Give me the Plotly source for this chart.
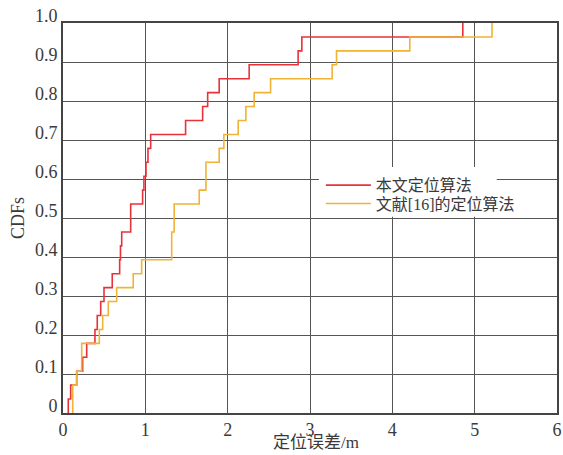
import numpy as np
import plotly.graph_objects as go

# Positioning error samples (m) for the two algorithms, 28 test points each
series_names = ["本文定位算法", "文献[16]的定位算法"]
errors_proposed = [0.064, 0.093, 0.166, 0.239, 0.288, 0.388, 0.416, 0.458, 0.498, 0.598,
                   0.688, 0.698, 0.713, 0.822, 0.822, 0.967, 0.983, 1.008, 1.032, 1.065,
                   1.489, 1.696, 1.757, 1.897, 2.261, 2.856, 2.901, 4.856]
errors_ref16 = [0.118, 0.118, 0.166, 0.227, 0.227, 0.441, 0.482, 0.550, 0.652, 0.853,
                0.955, 1.320, 1.320, 1.350, 1.350, 1.655, 1.736, 1.736, 1.897, 1.954,
                2.128, 2.221, 2.322, 2.521, 3.269, 3.322, 4.212, 5.211]
series_colors = ["#e8323a", "#f0b336"]

x_ticks = [0, 1, 2, 3, 4, 5, 6]
y_ticks = [0, 0.1, 0.2, 0.3, 0.4, 0.5, 0.6, 0.7, 0.8, 0.9, 1.0]
y_tick_labels = ["0", "0.1", "0.2", "0.3", "0.4", "0.5", "0.6", "0.7", "0.8", "0.9", "1.0"]
x_title = "定位误差/m"
y_title = "CDFs"


def ecdf_steps(samples):
    """Empirical CDF as step vertices, starting from zero at the first sample."""
    s = np.sort(np.asarray(samples, dtype=float))
    xs, counts = np.unique(s, return_counts=True)
    ys = np.cumsum(counts) / len(s)
    return np.r_[xs[0], xs], np.r_[0.0, ys]


SERIF = "Liberation Serif, Times New Roman, Noto Sans CJK SC, serif"
TEXT = "#3a3a3a"
GRID = "#555555"

fig = go.Figure()
legend_ids = ["legend", "legend2"]
for name, samples, color, lg in zip(series_names, [errors_proposed, errors_ref16],
                                    series_colors, legend_ids):
    x, y = ecdf_steps(samples)
    fig.add_trace(go.Scatter(
        x=x, y=y, mode="lines", name=name, legend=lg, showlegend=True,
        line=dict(color=color, width=1.6, shape="hv"),
    ))

axis_common = dict(
    showgrid=True, gridcolor=GRID, gridwidth=1.3,
    showline=True, linecolor="#444444", linewidth=1.6, mirror=True,
    zeroline=False, ticks="", ticklen=0, automargin=False, ticklabeloverflow="allow",
    tickfont=dict(family=SERIF, size=18, color=TEXT),
)

legend_common = dict(
    xanchor="left", yanchor="middle",
    bgcolor="rgba(0,0,0,0)", borderwidth=0,
    font=dict(family=SERIF, size=16, color=TEXT),
    itemwidth=45,
)

fig.update_layout(
    width=563, height=455,
    margin=dict(l=63, r=6, t=23, b=42),
    paper_bgcolor="white", plot_bgcolor="white",
    font=dict(family=SERIF, color=TEXT),
    showlegend=True,
    xaxis=dict(range=[0, 6], tickvals=x_ticks, **axis_common),
    yaxis=dict(
        range=[0, 1], tickvals=y_ticks, ticktext=y_tick_labels, ticklabelshift=-7,
        **axis_common,
        title=dict(text=y_title, font=dict(family=SERIF, size=18, color=TEXT), standoff=6),
    ),
    legend=dict(x=0.522, y=0.584, **legend_common),
    legend2=dict(x=0.522, y=0.537, **legend_common),
    # x-axis title placed just below the tick labels
    annotations=[dict(text=x_title, xref="paper", yref="paper", x=0.512, y=-0.076,
                      xanchor="center", yanchor="middle", showarrow=False,
                      font=dict(family=SERIF, size=17, color=TEXT))],
    # white panel behind the legend entries, hiding the grid there
    shapes=[dict(type="rect", xref="paper", yref="paper", layer="above",
                 x0=0.518, x1=0.878, y0=0.503, y1=0.631,
                 fillcolor="white", line=dict(width=0))],
)

fig.write_html("out.html")
